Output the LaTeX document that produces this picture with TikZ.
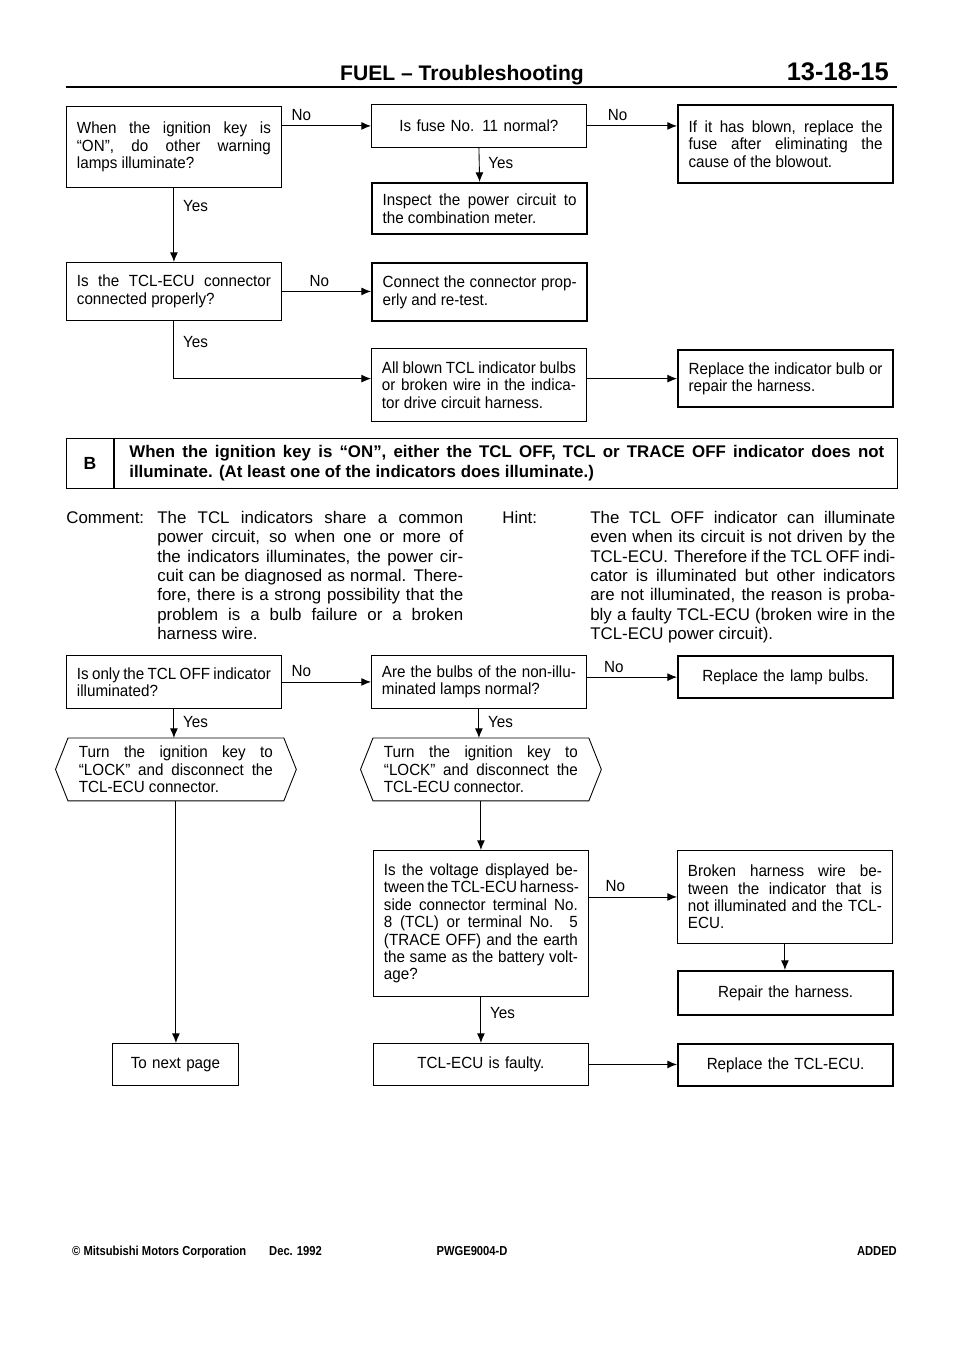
\documentclass[tikz,border=0pt]{standalone}
\usepackage{fontspec}
\setmainfont{Liberation Sans}
\newfontfamily\boxfam[FakeStretch=0.94]{Liberation Sans}
\newfontfamily\narrowfam[FakeStretch=0.86]{Liberation Sans}
\usetikzlibrary{arrows.meta}

\newcommand\boxfont{\boxfam\fontsize{9.2}{9.9}\selectfont}
\newcommand\notefont{\fontsize{9.6}{11}\selectfont}
\newcommand\headfont{\fontsize{12}{14}\selectfont\bfseries}
\newcommand\pagefont{\fontsize{14.5}{16}\selectfont\bfseries}
\newcommand\footfont{\narrowfam\fontsize{7.4}{8}\selectfont\bfseries}

\tikzset{
  box/.style={draw, line width=0.5pt, anchor=north west, text width=3.88cm,
    inner xsep=0.21cm, inner ysep=2pt, align=justify, font=\boxfont},
  endbox/.style={box, line width=1.3pt},
  hexbox/.style={box, draw=none},
  flow/.style={-{Latex[length=5.5pt,width=4.5pt]}, line width=0.5pt},
  lbl/.style={font=\boxfont, inner sep=2.5pt},
  yes/.style={lbl, right, xshift=2.5pt},
}

\begin{document}
\begin{tikzpicture}[x=0.02cm, y=-0.02cm]
  \useasboundingbox (0,0) rectangle (960,1358);

  % page head
  \node[font=\headfont, anchor=base] (title) at (462,81) {FUEL – Troubleshooting};
  \node[font=\pagefont, anchor=base east] (pageno) at (895,81) {13-18-15};
  \draw[line width=1.3pt] (66,87) -- (897,87);

  % chart A (end)
  \node[box, minimum height=1.62cm] (a1) at (66,106)
    {When the ignition key is\linebreak “ON”, do other warning\linebreak lamps illuminate?};
  \node[box, align=center, minimum height=0.86cm] (a2) at (371,104) {Is fuse No. 11 normal?};
  \node[endbox, minimum height=1.56cm] (a3) at (677,104)
    {If it has blown, replace the\linebreak fuse after eliminating the\linebreak cause of the blowout.};
  \node[endbox, minimum height=1.02cm] (a4) at (371,182)
    {Inspect the power circuit to\linebreak the combination meter.};
  \node[box, minimum height=1.16cm] (a5) at (66,262)
    {Is the \mbox{TCL-ECU} connector\linebreak connected properly?};
  \node[endbox, minimum height=1.16cm] (a6) at (371,262)
    {Connect the connector prop-\linebreak erly and re-test.};
  \node[box, minimum height=1.46cm] (a7) at (371,348)
    {All~blown~TCL~indicator~bulbs\linebreak or broken wire in the indica-\linebreak tor drive circuit harness.};
  \node[endbox, minimum height=1.14cm] (a8) at (677,349)
    {Replace the indicator bulb or\linebreak repair the harness.};

  \draw[flow] (a1.east |- a2.west) -- node[lbl, above, pos=0.22]{No} (a2.west);
  \draw[flow] (a2.east) -- node[lbl, above, pos=0.34]{No} (a2.east -| a3.west);
  \draw[flow] (a2.south) -- node[yes, pos=0.45]{Yes} (a4.north);
  \draw[flow] (a1.south) -- node[yes, pos=0.25]{Yes} (a5.north);
  \draw[flow] (a5.east) -- node[lbl, above, pos=0.42]{No} (a5.east -| a6.west);
  \draw[flow] (a5.south) |- node[yes, pos=0.18]{Yes} (a7.west |- a8.west);
  \draw[flow] (a7.east |- a8.west) -- (a8.west);

  % trouble B
  \node[draw, line width=0.7pt, anchor=north west, minimum width=16.62cm,
    minimum height=1cm, inner sep=0] (bframe) at (66,438) {};
  \draw[line width=0.7pt] ([xshift=0.96cm]bframe.north west) -- ([xshift=0.96cm]bframe.south west);
  \node[font=\fontsize{10}{12}\selectfont\bfseries] (bletter) at (90,463) {B};
  \node[anchor=west, text width=15.1cm, align=justify, inner sep=0,
    font=\fontsize{9.6}{11}\selectfont\bfseries] (btitle) at (129,463)
    {When the ignition key is “ON”, either the TCL OFF, TCL or TRACE OFF indicator does not\linebreak
     illuminate. (At least one of the indicators does illuminate.)};

  \coordinate (cmtx) at (66,0);
  \coordinate (hintx) at (502,0);
  \node[anchor=north west, text width=6.12cm, align=justify, inner sep=0, font=\notefont] (cmt) at (157,511)
    {The TCL indicators share a common\linebreak power circuit, so when one or more of\linebreak
     the indicators illuminates, the power cir-\linebreak cuit can be diagnosed as normal. There-\linebreak
     fore, there is a strong possibility that the\linebreak problem is a bulb failure or a broken\linebreak
     harness wire.};
  \node[anchor=base west, inner sep=0, font=\notefont] (cmtlbl) at (cmt.base -| cmtx) {Comment:};
  \node[anchor=north west, text width=6.1cm, align=justify, inner sep=0, font=\notefont] (hint) at (590,511)
    {The TCL OFF indicator can illuminate\linebreak even when its circuit is not driven by the\linebreak
     \mbox{TCL-ECU}. Therefore if the TCL OFF indi-\linebreak cator is illuminated but other indicators\linebreak
     are not illuminated, the reason is proba-\linebreak bly a faulty \mbox{TCL-ECU} (broken wire in the\linebreak
     \mbox{TCL-ECU} power circuit).};
  \node[anchor=base west, inner sep=0, font=\notefont] (hintlbl) at (hint.base -| hintx) {Hint:};

  \node[box, minimum height=1.06cm] (c1) at (66,655)
    {Is~only~the~TCL~OFF~indicator\linebreak illuminated?};
  \node[box, minimum height=1.06cm] (c2) at (371,655)
    {Are the bulbs of the non-illu-\linebreak minated lamps normal?};
  \node[endbox, align=center, minimum height=0.84cm] (c3) at (677,655) {Replace the lamp bulbs.};
  \node[hexbox, minimum height=1.24cm] (c4) at (68,738)
    {Turn the ignition key to\linebreak “LOCK” and disconnect the\linebreak \mbox{TCL-ECU} connector.};
  \node[hexbox, minimum height=1.24cm] (c5) at (373,738)
    {Turn the ignition key to\linebreak “LOCK” and disconnect the\linebreak \mbox{TCL-ECU} connector.};
  \foreach \n in {c4,c5}
    \draw[line width=0.5pt] (\n.north west) -- (\n.north east) -- ([xshift=0.25cm]\n.east)
      -- (\n.south east) -- (\n.south west) -- ([xshift=-0.25cm]\n.west) -- cycle;
  \node[box, text width=2.1cm, align=center, minimum height=0.84cm] (c6) at (112,1043) {To next page};
  \node[box, minimum height=2.92cm] (c7) at (373,850)
    {Is the voltage displayed be-\linebreak tween~the~\mbox{TCL-ECU}~\mbox{harness-}\linebreak side connector terminal No.\linebreak
     8 (TCL) or terminal No. 5\linebreak (TRACE OFF) and the earth\linebreak the same as the battery volt-\linebreak age?};
  \node[box, minimum height=1.86cm] (c8) at (677,850)
    {Broken harness wire be-\linebreak tween the indicator that is\linebreak not illuminated and the TCL-\linebreak ECU.};
  \node[endbox, align=center, minimum height=0.88cm] (c9) at (677,970) {Repair the harness.};
  \node[box, align=center, minimum height=0.84cm] (c10) at (373,1043) {\mbox{TCL-ECU} is faulty.};
  \node[endbox, align=center, minimum height=0.84cm] (c11) at (677,1043) {Replace the \mbox{TCL-ECU}.};

  \draw[flow] (c1.east) -- node[lbl, above, pos=0.22]{No} (c1.east -| c2.west);
  \draw[flow] (c2.east |- c3.west) -- node[lbl, above, pos=0.3]{No} (c3.west);
  \draw[flow] (c1.south) -- node[yes, pos=0.45]{Yes} (c1.south |- c4.north);
  \draw[flow] (c2.south) -- node[yes, pos=0.45]{Yes} (c2.south |- c5.north);
  \draw[flow] (c4.south) -- (c4.south |- c6.north);
  \draw[flow] (c5.south) -- (c5.south |- c7.north);
  \draw[flow] (c7.east |- c8.west) -- node[lbl, above, pos=0.3]{No} (c8.west);
  \draw[flow] (c8.south) -- (c8.south |- c9.north);
  \draw[flow] (c7.south) -- node[yes, pos=0.34]{Yes} (c7.south |- c10.north);
  \draw[flow] (c10.east) -- (c10.east -| c11.west);

  % page foot
  \node[font=\footfont, anchor=base west] (corp) at (66,1255) {© Mitsubishi Motors Corporation};
  \node[font=\footfont, anchor=base west] (date) at (263,1255) {Dec. 1992};
  \node[font=\footfont, anchor=base] (docno) at (472,1255) {PWGE9004-D};
  \node[font=\footfont, anchor=base east] (added) at (903,1255) {ADDED};
\end{tikzpicture}
\end{document}
